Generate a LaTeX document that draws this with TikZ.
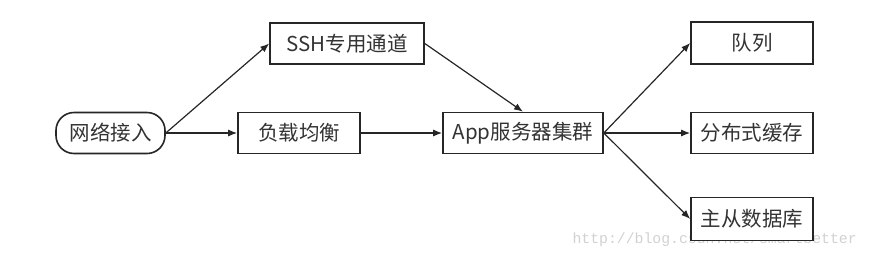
\documentclass[tikz,border=0pt]{standalone}
\usepackage{fontspec}
\newfontfamily\cjk{Noto Sans CJK SC}
\newfontfamily\wmfont{Liberation Mono}
\usetikzlibrary{arrows.meta}
\begin{document}
\begin{tikzpicture}[x=1pt,y=-1pt,
  box/.style={draw=black!85,line width=1.6pt,fill=white,inner sep=0pt,font=\cjk\fontsize{20.5}{23}\selectfont,text=black!80},
  conn/.style={line width=1.2pt,draw=black!85,-{Latex[length=9pt,width=7pt]}}]
\useasboundingbox (0,0) rectangle (869,255);
\node[font=\wmfont\fontsize{14.8}{16}\selectfont,text=black!18,anchor=west] (wm) at (569,240) {http://blog.csdn.net/smartbetter};
\node[box,rounded corners=18pt,minimum width=109pt,minimum height=41pt] (net) at (110.5,133) {网络接入};
\node[box,minimum width=154pt,minimum height=41pt] (ssh) at (347,43.5) {SSH专用通道};
\node[box,minimum width=122pt,minimum height=41pt] (lb) at (299,133) {负载均衡};
\node[box,minimum width=160pt,minimum height=41pt] (app) at (523,133) {App服务器集群};
\node[box,minimum width=122pt,minimum height=42pt] (q) at (752,43) {队列};
\node[box,minimum width=122pt,minimum height=41pt] (cache) at (752,133) {分布式缓存};
\node[box,minimum width=122pt,minimum height=43pt] (db) at (752,219) {主从数据库};
\draw[conn] (net.east) -- (ssh.west);
\draw[conn] (net.east) -- (lb.west);
\draw[conn] (lb.east) -- (app.west);
\draw[conn] (ssh.east) -- (app.north);
\draw[conn] (app.east) -- (q.west);
\draw[conn] (app.east) -- (cache.west);
\draw[conn] (app.east) -- (db.west);
\end{tikzpicture}
\end{document}
